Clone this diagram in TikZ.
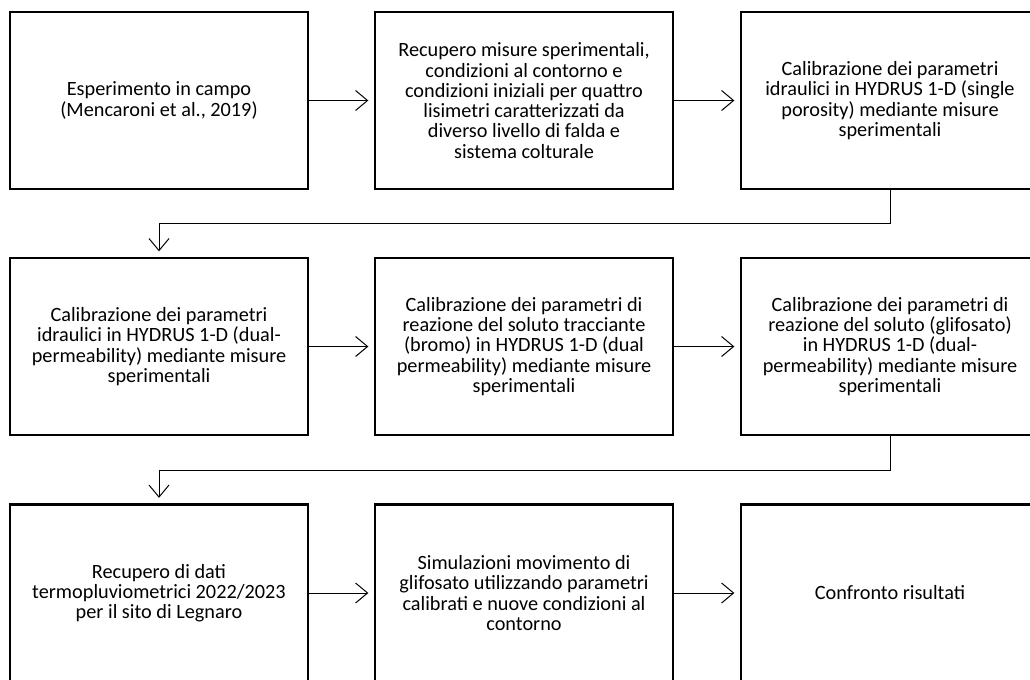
\documentclass[tikz,border=0pt]{standalone}
\usepackage{fontspec}
\setmainfont{Carlito}
\usetikzlibrary{arrows.meta}
\begin{document}
\begin{tikzpicture}[x=0.75pt,y=-0.75pt,
  box/.style={draw=black, line width=2pt, minimum width=223.5pt, minimum height=132.75pt,
    inner sep=0pt, outer sep=0pt, align=center, font=\fontsize{15.2}{15.2}\selectfont},
  conn/.style={line width=0.75pt, -{Straight Barb[length=9pt,width=15pt]}, shorten >=5pt}]
\path[use as bounding box] (0,0) rectangle (1030,679);
\fill[white] (0,0) rectangle (1030,679);
\clip (0,0) rectangle (1030,679);
\node[box] (b1) at (159,100.5) {Esperimento in campo\\(Mencaroni et al., 2019)};
\node[box] (b2) at (524,100.5) {Recupero misure sperimentali,\\condizioni al contorno e\\condizioni iniziali per quattro\\lisimetri caratterizzati da\\diverso livello di falda e\\sistema colturale};
\node[box] (b3) at (890,100.5) {Calibrazione dei parametri\\idraulici in HYDRUS 1-D (single\\porosity) mediante misure\\sperimentali};
\node[box] (b4) at (159,346.5) {Calibrazione dei parametri\\idraulici in HYDRUS 1-D (dual-\\permeability) mediante misure\\sperimentali};
\node[box] (b5) at (524,346.5) {Calibrazione dei parametri di\\reazione del soluto tracciante\\(bromo) in HYDRUS 1-D (dual\\permeability) mediante misure\\sperimentali};
\node[box] (b6) at (890,346.5) {Calibrazione dei parametri di\\reazione del soluto (glifosato)\\in HYDRUS 1-D (dual-\\permeability) mediante misure\\sperimentali};
\node[box] (b7) at (159,593) {Recupero di dati\\termopluviometrici 2022/2023\\per il sito di Legnaro};
\node[box] (b8) at (524,593) {Simulazioni movimento di\\glifosato utilizzando parametri\\calibrati e nuove condizioni al\\contorno};
\node[box] (b9) at (890,593) {Confronto risultati};
\coordinate (r1) at (0,223);
\coordinate (r2) at (0,470);
\draw[conn] (b1) -- (b2);
\draw[conn] (b2) -- (b3);
\draw[conn] (b3.south) -- (b3.south |- r1) -| (b4.north);
\draw[conn] (b4) -- (b5);
\draw[conn] (b5) -- (b6);
\draw[conn] (b6.south) -- (b6.south |- r2) -| (b7.north);
\draw[conn] (b7) -- (b8);
\draw[conn] (b8) -- (b9);
\end{tikzpicture}
\end{document}
